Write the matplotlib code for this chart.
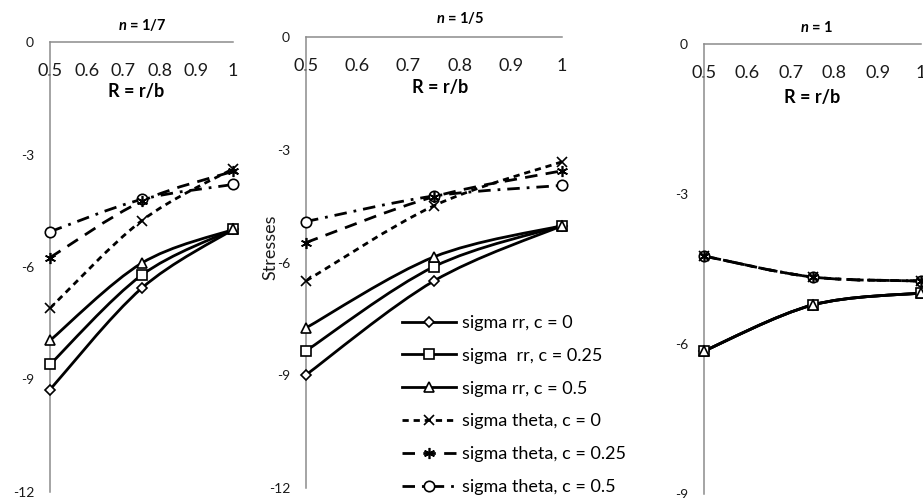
import numpy as np
import matplotlib
matplotlib.use("Agg")
import matplotlib.pyplot as plt
from matplotlib.path import Path
from matplotlib.patches import PathPatch
from matplotlib.lines import Line2D

plt.rcParams["font.family"] = ["Lato", "DejaVu Sans"]
plt.rcParams["axes.unicode_minus"] = False
plt.rcParams["lines.scale_dashes"] = False
plt.rcParams["mathtext.fontset"] = "custom"
plt.rcParams["mathtext.rm"] = "Lato"
plt.rcParams["mathtext.bf"] = "Lato:bold"
plt.rcParams["mathtext.bfit"] = "Lato:italic:bold"

# radius ratio R = r/b
R = [0.5, 0.75, 1.0]

# n = 1/7
n7_rr_c0 = [-9.27, -6.57, -5.0]
n7_rr_c25 = [-8.6, -6.22, -5.0]
n7_rr_c5 = [-7.96, -5.9, -5.0]
n7_th_c0 = [-7.1, -4.77, -3.38]
n7_th_c25 = [-5.75, -4.25, -3.45]
n7_th_c5 = [-5.06, -4.2, -3.8]

# n = 1/5
n5_rr_c0 = [-8.99, -6.49, -5.02]
n5_rr_c25 = [-8.35, -6.11, -5.02]
n5_rr_c5 = [-7.74, -5.85, -5.02]
n5_th_c0 = [-6.49, -4.49, -3.32]
n5_th_c25 = [-5.47, -4.25, -3.56]
n5_th_c5 = [-4.91, -4.23, -3.95]

# n = 1 (all c give the same curve)
n1_rr = [-6.14, -5.22, -4.98]
n1_th = [-4.24, -4.66, -4.74]

labels = ["sigma rr, c = 0", "sigma  rr, c = 0.25", "sigma rr, c = 0.5",
          "sigma theta, c = 0", "sigma theta, c = 0.25", "sigma theta, c = 0.5"]

x_ticks = [0.5, 0.6, 0.7, 0.8, 0.9, 1.0]
x_ticklabels = ["0.5", "0.6", "0.7", "0.8", "0.9", "1"]

solid = "-"
short_dash = (0, (4.5, 3.5))
long_dash = (0, (9, 6))
dash_dot = (0, (9, 5, 2, 5))
styles = [("D", 5.5, solid), ("s", 7.5, solid), ("^", 7.5, solid),
          ("x", 7, short_dash), ((6, 2, 0), 8, long_dash), ("o", 7.5, dash_dot)]
LW = 2.0

W, H = 923, 498
fig = plt.figure(figsize=(W / 100, H / 100), dpi=100)
fig.patch.set_facecolor("white")


def smooth_path(x, y):
    # excel-like smoothed line through the points
    pts = np.column_stack([x, y])
    verts = [pts[0]]
    codes = [Path.MOVETO]
    n = len(pts)
    for i in range(n - 1):
        p0 = pts[i - 1] if i > 0 else pts[i]
        p1 = pts[i]
        p2 = pts[i + 1]
        p3 = pts[i + 2] if i + 2 < n else pts[i + 1]
        verts += [p1 + (p2 - p0) / 6, p2 - (p3 - p1) / 6, p2]
        codes += [Path.CURVE4] * 3
    return Path(verts, codes)


def make_axes(x0, x1, y0, y1, ymin):
    ax = fig.add_axes([x0 / W, 1 - y1 / H, (x1 - x0) / W, (y1 - y0) / H])
    ax.set_xlim(0.5, 1.0)
    ax.set_ylim(ymin, 0)
    for s in ["right", "bottom"]:
        ax.spines[s].set_visible(False)
    for s in ["left", "top"]:
        ax.spines[s].set_color("#8c8c8c")
        ax.spines[s].set_linewidth(1.1)
    ax.xaxis.tick_top()
    ax.set_xticks(x_ticks, x_ticklabels)
    yt = list(range(0, ymin - 1, -3))
    ax.set_yticks(yt, [str(v) for v in yt])
    ax.tick_params(axis="x", length=0, pad=-27, labelsize=13, labelcolor="#1a1a1a")
    ax.tick_params(axis="y", length=0, pad=11.5, labelsize=10, labelcolor="#1a1a1a")
    ax.patch.set_alpha(0)
    return ax


def draw(ax, series):
    for yv, (m, ms, ls) in zip(series, styles):
        ax.add_patch(PathPatch(smooth_path(R, yv), fill=False, lw=LW, ls=ls,
                               ec="black", capstyle="butt", clip_on=False, zorder=2))
        # open markers (x, star) sit on top of the white-filled ones
        z = 4 if m in ("x", (6, 2, 0)) else 3
        ax.plot(R, yv, ls="none", marker=m, ms=ms, mfc="white", mec="black",
                mew=1.2, clip_on=False, zorder=z)


ax1 = make_axes(50, 233, 42, 492, -12)
draw(ax1, [n7_rr_c0, n7_rr_c25, n7_rr_c5, n7_th_c0, n7_th_c25, n7_th_c5])

ax2 = make_axes(306, 562, 37, 488, -12)
draw(ax2, [n5_rr_c0, n5_rr_c25, n5_rr_c5, n5_th_c0, n5_th_c25, n5_th_c5])

ax3 = make_axes(704, 921, 44, 494, -9)
draw(ax3, [n1_rr, n1_rr, n1_rr, n1_th, n1_th, n1_th])

# titles and axis labels
for x, y, t in [(142, 25, "1/7"), (460, 18, "1/5"), (817, 28, "1")]:
    fig.text(x / W, 1 - y / H, r"$\mathbfit{n}$ = " + t, ha="center", va="center",
             fontsize=10.5, fontweight="bold")
for x, y in [(136, 92), (440, 87), (812, 97)]:
    fig.text(x / W, 1 - y / H, "R = r/b", ha="center", va="center",
             fontsize=13, fontweight="bold")
fig.text(270 / W, 1 - 247 / H, "Stresses", rotation=90, ha="center", va="center",
         fontsize=13, color="#1a1a1a")

handles = [Line2D([], [], color="black", lw=LW, ls=ls, marker=m, ms=ms,
                  mfc="white", mec="black", mew=1.2) for m, ms, ls in styles]
fig.legend(handles, labels, loc="upper left", bbox_to_anchor=(402 / W, 1 - 315 / H),
           frameon=False, fontsize=13, handlelength=3.0, handletextpad=0.3,
           labelspacing=0.93, borderpad=0, borderaxespad=0, numpoints=1)

fig.savefig("out.png", dpi=100)
